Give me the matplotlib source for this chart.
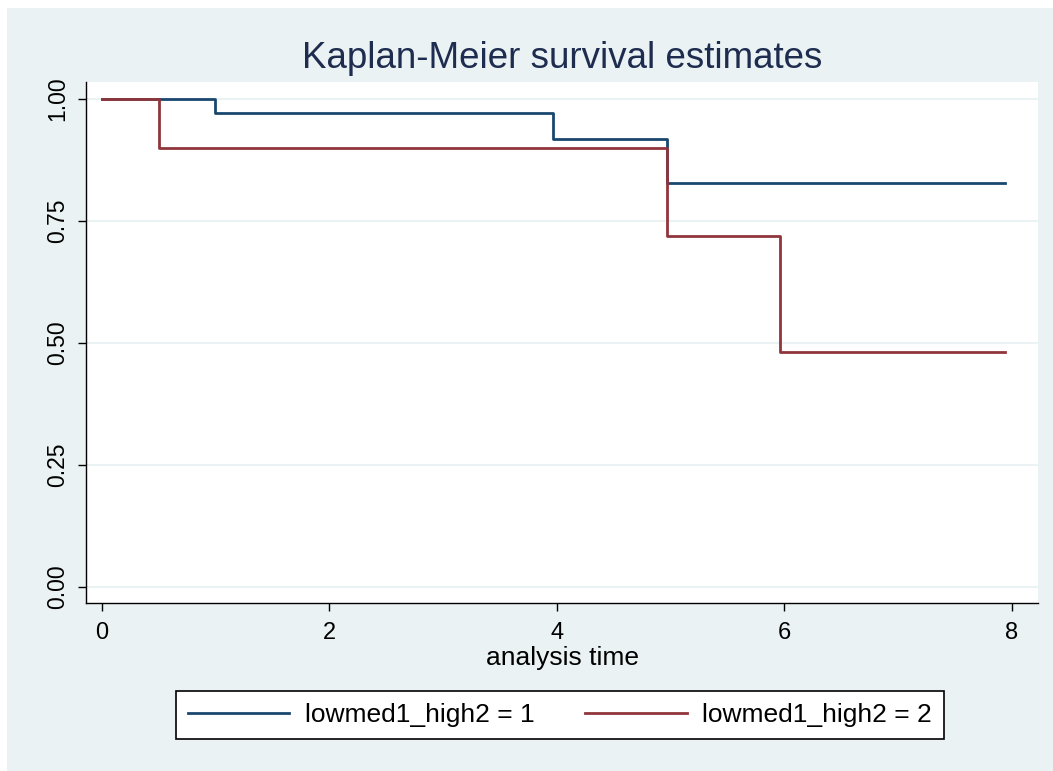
import matplotlib
matplotlib.use("Agg")
import matplotlib.pyplot as plt
from matplotlib.patches import Rectangle

# Kaplan-Meier step values
time_grp1 = [0.0, 0.99, 3.97, 4.97, 7.94]
surv_grp1 = [1.00, 0.971, 0.918, 0.827, 0.827]
time_grp2 = [0.0, 0.50, 4.97, 5.96, 7.94]
surv_grp2 = [1.00, 0.900, 0.719, 0.481, 0.481]

labels = ["lowmed1_high2 = 1", "lowmed1_high2 = 2"]
xticks = [0, 2, 4, 6, 8]
yticks = [0.00, 0.25, 0.50, 0.75, 1.00]

navy = "#1a476f"
maroon = "#90353b"
bg = "#eaf2f3"

fam = ["Liberation Sans", "DejaVu Sans"]

W, H = 1053, 771
fig = plt.figure(figsize=(W / 100, H / 100), dpi=100)
fig.patch.set_facecolor("white")
fig.patches.append(Rectangle((7 / W, 0), 1 - 7 / W, 1 - 8 / H,
                             transform=fig.transFigure, facecolor=bg,
                             edgecolor="none", zorder=-10))

ax = fig.add_axes([86 / W, (H - 603) / H, (1038 - 86) / W, (603 - 82) / H])
ax.set_facecolor("white")

ax.step(time_grp1, surv_grp1, where="post", color=navy, lw=2, label=labels[0])
ax.step(time_grp2, surv_grp2, where="post", color=maroon, lw=2, label=labels[1])

ax.set_xlim(-0.14, 8.23)
ax.set_ylim(-0.033, 1.035)
ax.set_xticks(xticks)
ax.set_xticklabels([str(t) for t in xticks], family=fam, fontsize=17)
ax.set_yticks(yticks)
ax.set_yticklabels(["%.2f" % t for t in yticks], family=fam, fontsize=16.5,
                   rotation=90, va="center")
ax.tick_params(axis="x", length=6, width=1, color="black", pad=8)
ax.tick_params(axis="y", length=6, width=1, color="black", pad=6)
ax.grid(axis="y", color=bg, lw=1.5)
ax.set_axisbelow(True)
for s in ["top", "right"]:
    ax.spines[s].set_visible(False)
for s in ["left", "bottom"]:
    ax.spines[s].set_color("black")
    ax.spines[s].set_linewidth(1)

ax.set_xlabel("analysis time", family=fam, fontsize=19, labelpad=1)
fig.text(562 / W, 1 - 59 / H, "Kaplan-Meier survival estimates",
         ha="center", va="center", fontsize=26.5, color="#1e2d4f",
         family=fam)

leg = fig.legend(loc="center", bbox_to_anchor=(560 / W, 1 - 715 / H), ncol=2,
                 frameon=True, fancybox=False, framealpha=1,
                 handlelength=3.85, columnspacing=1.9, handletextpad=0.6,
                 borderpad=0.45, prop={"family": fam, "size": 19})
leg.get_frame().set_edgecolor("black")
leg.get_frame().set_linewidth(1.2)
for line in leg.get_lines():
    line.set_linewidth(2)

fig.savefig("out.png", dpi=100, facecolor=fig.get_facecolor())
